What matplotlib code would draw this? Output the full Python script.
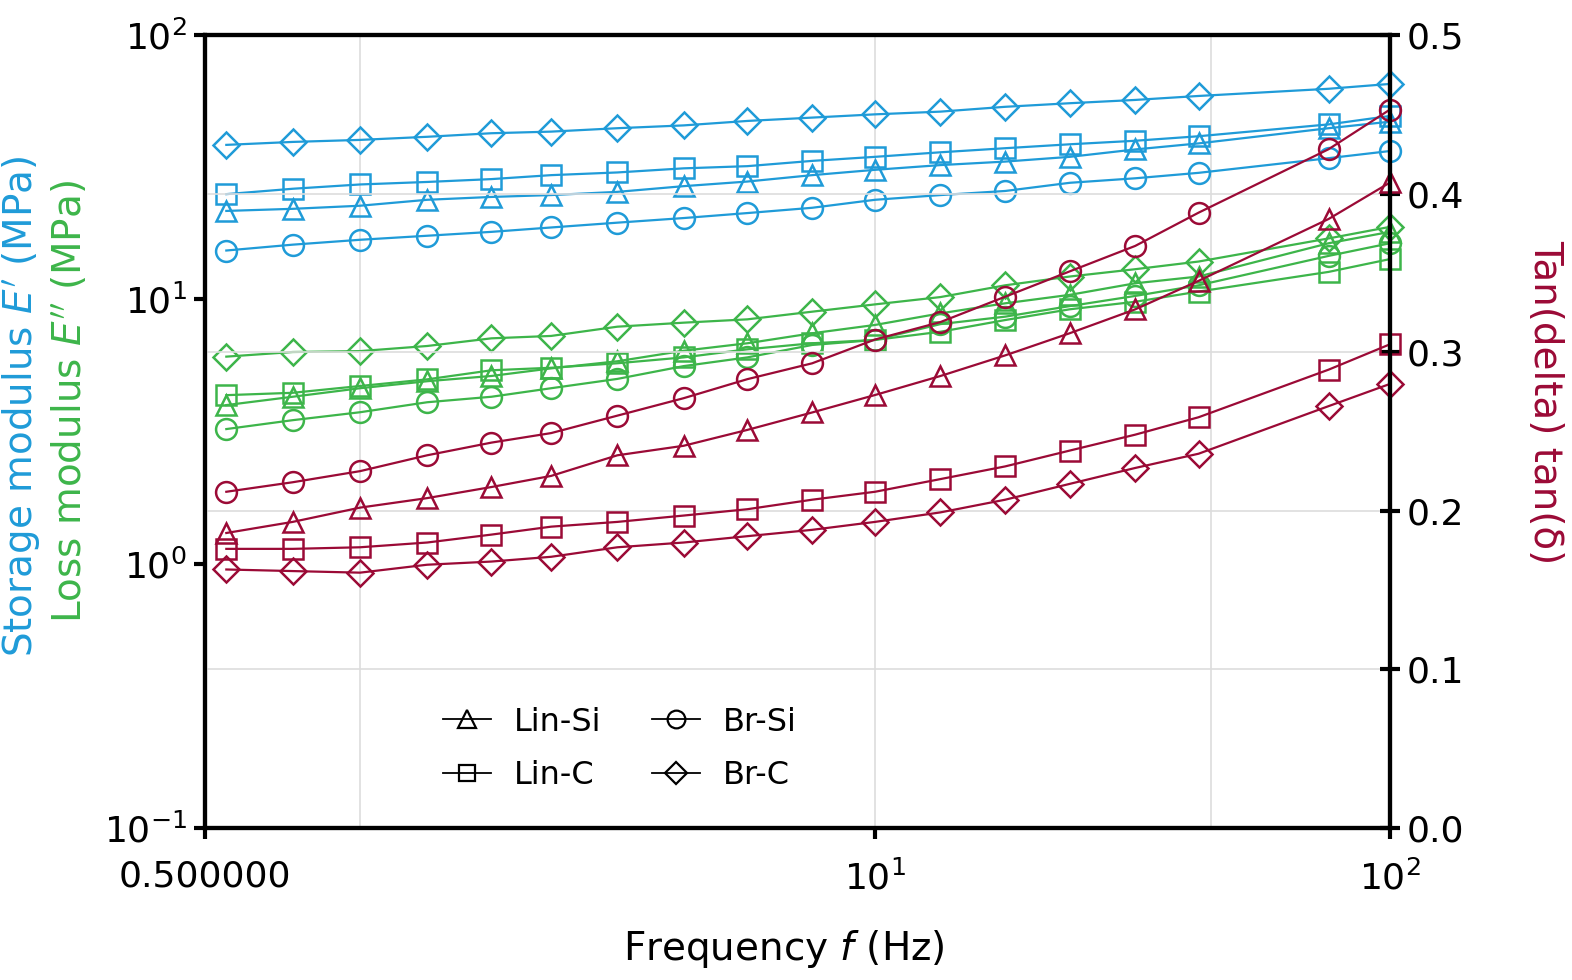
import matplotlib
matplotlib.use("Agg")
import matplotlib.pyplot as plt
from matplotlib.lines import Line2D
from matplotlib.ticker import FixedLocator, FixedFormatter, NullLocator

plt.rcParams['font.family'] = ['DejaVu Sans']
plt.rcParams['mathtext.fontset'] = 'dejavusans'

# frequency (Hz)
freq = [0.55, 0.74, 1.0, 1.35, 1.8, 2.35, 3.16, 4.25, 5.65, 7.55,
        10.0, 13.4, 17.9, 23.9, 32.0, 42.5, 76.0, 100.0]

# storage modulus E' (MPa)
storage = {
    'Lin-Si': [21.6, 22.0, 22.6, 23.8, 24.4, 24.8, 25.5, 26.8, 27.9, 29.5,
               30.9, 32.2, 33.2, 34.6, 36.9, 38.9, 44.4, 47.0],
    'Lin-C': [25.0, 26.2, 27.2, 27.8, 28.5, 29.5, 30.2, 31.3, 31.9, 33.4,
              34.6, 36.0, 37.3, 38.6, 39.8, 41.4, 45.9, 49.4],
    'Br-Si': [15.3, 16.1, 16.8, 17.4, 18.0, 18.7, 19.5, 20.3, 21.2, 22.2,
              23.8, 24.8, 25.7, 27.6, 28.7, 30.1, 34.2, 36.4],
    'Br-C': [38.4, 39.4, 40.1, 41.2, 42.5, 43.1, 44.4, 45.5, 47.3, 48.7,
             50.1, 51.3, 53.5, 55.2, 56.8, 58.8, 62.6, 65.3],
}

# loss modulus E'' (MPa)
loss = {
    'Lin-Si': [3.98, 4.28, 4.61, 4.90, 5.13, 5.48, 5.83, 6.39, 6.82, 7.44,
               8.00, 8.85, 9.66, 10.4, 11.5, 12.2, 16.3, 18.0],
    'Lin-C': [4.34, 4.43, 4.70, 4.98, 5.39, 5.51, 5.73, 6.03, 6.47, 6.82,
              7.02, 7.54, 8.35, 9.17, 9.79, 10.7, 12.7, 14.2],
    'Br-Si': [3.23, 3.49, 3.74, 4.08, 4.28, 4.61, 5.00, 5.59, 6.03, 6.72,
              7.02, 8.06, 8.60, 9.43, 10.3, 11.3, 14.6, 16.3],
    'Br-C': [6.07, 6.32, 6.37, 6.66, 7.12, 7.27, 7.88, 8.16, 8.40, 8.98,
             9.57, 10.2, 11.3, 12.2, 13.0, 13.9, 17.0, 18.8],
}

# tan(delta)
tand = {
    'Lin-Si': [0.186, 0.193, 0.202, 0.208, 0.215, 0.222, 0.235, 0.241, 0.251, 0.262,
               0.273, 0.285, 0.298, 0.312, 0.327, 0.345, 0.384, 0.407],
    'Lin-C': [0.176, 0.176, 0.177, 0.180, 0.185, 0.190, 0.193, 0.197, 0.201, 0.207,
              0.212, 0.220, 0.228, 0.238, 0.248, 0.259, 0.289, 0.305],
    'Br-Si': [0.212, 0.218, 0.225, 0.235, 0.243, 0.249, 0.260, 0.271, 0.283, 0.293,
              0.308, 0.319, 0.335, 0.351, 0.367, 0.388, 0.428, 0.453],
    'Br-C': [0.163, 0.162, 0.161, 0.166, 0.168, 0.171, 0.177, 0.180, 0.184, 0.188,
             0.193, 0.199, 0.207, 0.217, 0.227, 0.236, 0.266, 0.280],
}

samples = ['Lin-Si', 'Lin-C', 'Br-Si', 'Br-C']
markers = {'Lin-Si': '^', 'Lin-C': 's', 'Br-Si': 'o', 'Br-C': 'D'}
msizes = {'Lin-Si': 15, 'Lin-C': 14, 'Br-Si': 15, 'Br-C': 13}

blue = '#1f9bd8'
green = '#3db54a'
red = '#9b0a36'

fig = plt.figure(figsize=(15.72, 9.8), dpi=100)
ax = fig.add_axes([205 / 1572, 1 - 828 / 980, (1390 - 205) / 1572, (828 - 35) / 980])
ax2 = ax.twinx()


def draw(a, ydata, color):
    for s in samples:
        a.plot(freq, ydata[s], color=color, lw=1.6, marker=markers[s],
               ms=msizes[s], mfc='none', mec=color, mew=1.8, clip_on=False)


draw(ax, storage, blue)
draw(ax, loss, green)
draw(ax2, tand, red)

ax.set_xscale('log')
ax.set_yscale('log')
ax.set_xlim(0.5, 100)
ax.set_ylim(0.1, 100)
ax2.set_ylim(0, 0.5)

# vertical grid lines
for xv in [1.0, 10.0, 45.0]:
    ax.axvline(xv, color='#dddddd', lw=1.2, zorder=0)
ax2.set_yticks([0.0, 0.1, 0.2, 0.3, 0.4, 0.5])
ax2.set_yticklabels(['0.0', '0.1', '0.2', '0.3', '0.4', '0.5'])
ax2.grid(axis='y', color='#dddddd', lw=1.2)
ax2.set_axisbelow(True)

ax.xaxis.set_major_locator(FixedLocator([0.5, 10, 100]))
ax.xaxis.set_major_formatter(FixedFormatter(['0.500000', '$10^1$', '$10^2$']))
ax.xaxis.set_minor_locator(NullLocator())
ax.yaxis.set_major_locator(FixedLocator([0.1, 1, 10, 100]))
ax.yaxis.set_major_formatter(FixedFormatter(['$10^{-1}$', '$10^0$', '$10^1$', '$10^2$']))
ax.yaxis.set_minor_locator(NullLocator())

for a in (ax, ax2):
    for sp in a.spines.values():
        sp.set_linewidth(3)
        sp.set_color('black')
ax.tick_params(axis='both', which='major', labelsize=26, width=3, length=8,
               direction='out', pad=5)
ax.tick_params(axis='x', pad=15)
ax2.tick_params(axis='y', labelsize=26, width=3, length=14, direction='inout', pad=5)

ax.set_xlabel('Frequency $f$ (Hz)', fontsize=28)
ax.xaxis.set_label_coords(0.488, -0.153)
ax.xaxis.label.set_va('center')

fig.text(0.014, 0.585, "Storage modulus $E'$ (MPa)", rotation=90, color=blue,
         fontsize=28, ha='center', va='center')
fig.text(0.0445, 0.59, "Loss modulus $E''$ (MPa)", rotation=90, color=green,
         fontsize=28, ha='center', va='center')
fig.text(0.983, 0.59, 'Tan(delta) tan(\u03b4)', rotation=-90, color=red,
         fontsize=28, ha='center', va='center')

handles = [Line2D([], [], color='black', lw=1.3, marker=markers[s], ms=msizes[s] * 0.85,
                  mfc='none', mec='black', mew=1.6) for s in samples]
ax2.legend(handles, samples, loc='center', bbox_to_anchor=(0.35, 0.10), ncol=2,
           frameon=False, fontsize=23, handlelength=1.5, columnspacing=1.6,
           labelspacing=0.7, handletextpad=0.7)

fig.savefig('out.png', dpi=100)
